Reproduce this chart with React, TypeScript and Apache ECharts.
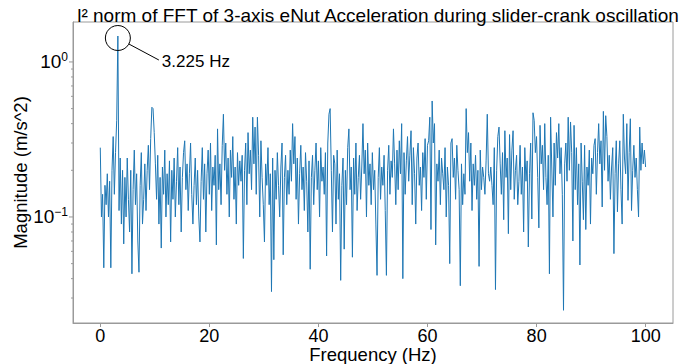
import React, { useEffect, useRef } from 'react';
import * as echarts from 'echarts';

const TITLE = 'l² norm of FFT of 3-axis eNut Acceleration during slider-crank oscillation';
const X_LABEL = 'Frequency (Hz)';
const Y_LABEL = 'Magnitude (m/s^2)';
const PEAK_LABEL = '3.225 Hz';
const PEAK_FREQ = 3.225;
const FREQ_STEP = 0.215; // FFT bin width (Hz)

const X_TICKS = [0, 20, 40, 60, 80, 100];
const Y_MAJOR_TICKS = [0.1, 1];
const Y_MINOR_TICKS = [0.03, 0.04, 0.05, 0.06, 0.07, 0.08, 0.09, 0.2, 0.3, 0.4, 0.5, 0.6, 0.7, 0.8, 0.9];
const X_MIN = -5;
const X_MAX = 105;
const Y_MIN = 0.0207;
const Y_MAX = 1.81;

// magnitudes, one FFT bin each (0 .. 100 Hz)
const magBand0to21 = [
  0.28, 0.1, 0.14, 0.047, 0.16, 0.12, 0.19, 0.1, 0.17, 0.047, 0.2, 0.33, 0.14, 0.26, 0.42, 1.47, 0.11, 0.24, 0.09, 0.2,
  0.067, 0.18, 0.1, 0.24, 0.13, 0.08, 0.2, 0.043, 0.15, 0.27, 0.12, 0.19, 0.07, 0.044, 0.16, 0.26, 0.09, 0.13, 0.22, 0.11,
  0.2, 0.29, 0.15, 0.32, 0.51, 0.5, 0.35, 0.22, 0.13, 0.25, 0.09, 0.18, 0.063, 0.21, 0.14, 0.27, 0.1, 0.19, 0.12, 0.23,
  0.069, 0.2, 0.13, 0.24, 0.1, 0.17, 0.28, 0.12, 0.21, 0.08, 0.18, 0.26, 0.31, 0.15, 0.22, 0.11, 0.19, 0.3, 0.14, 0.09,
  0.16, 0.24, 0.12, 0.2, 0.1, 0.069, 0.17, 0.28, 0.13, 0.22, 0.08, 0.19, 0.27, 0.14, 0.3, 0.11, 0.21, 0.16, 0.25, 0.066,
];
const magBand21to43 = [
  0.37, 0.15, 0.22, 0.12, 0.29, 0.46, 0.2, 0.3, 0.14, 0.24, 0.1, 0.27, 0.18, 0.33, 0.13, 0.21, 0.09, 0.26, 0.16, 0.23,
  0.17, 0.25, 0.054, 0.2, 0.3, 0.12, 0.35, 0.19, 0.27, 0.15, 0.44, 0.22, 0.38, 0.14, 0.44, 0.25, 0.1, 0.31, 0.18, 0.12,
  0.069, 0.22, 0.16, 0.28, 0.12, 0.19, 0.033, 0.24, 0.053, 0.2, 0.13, 0.26, 0.16, 0.1, 0.21, 0.3, 0.057, 0.18, 0.25, 0.12,
  0.2, 0.14, 0.27, 0.17, 0.4, 0.22, 0.33, 0.13, 0.24, 0.09, 0.19, 0.29, 0.15, 0.21, 0.11, 0.26, 0.17, 0.08, 0.23, 0.046,
  0.18, 0.25, 0.12, 0.2, 0.3, 0.15, 0.23, 0.1, 0.28, 0.17, 0.21, 0.14, 0.26, 0.056, 0.3, 0.46, 0.5, 0.2, 0.08, 0.25,
];
const magBand43to64 = [
  0.22, 0.09, 0.27, 0.13, 0.19, 0.039, 0.16, 0.24, 0.062, 0.2, 0.12, 0.28, 0.37, 0.15, 0.21, 0.055, 0.24, 0.14, 0.3, 0.11,
  0.18, 0.25, 0.13, 0.21, 0.4, 0.19, 0.27, 0.1, 0.3, 0.16, 0.22, 0.12, 0.26, 0.15, 0.2, 0.09, 0.042, 0.18, 0.28, 0.13,
  0.21, 0.16, 0.25, 0.11, 0.042, 0.2, 0.29, 0.14, 0.23, 0.18, 0.37, 0.22, 0.12, 0.27, 0.15, 0.31, 0.19, 0.4, 0.04, 0.26,
  0.14, 0.23, 0.33, 0.17, 0.25, 0.36, 0.12, 0.28, 0.19, 0.09, 0.24, 0.3, 0.16, 0.21, 0.11, 0.26, 0.18, 0.32, 0.13, 0.29,
  0.31, 0.44, 0.083, 0.56, 0.3, 0.4, 0.066, 0.22, 0.17, 0.27, 0.12, 0.24, 0.19, 0.15, 0.28, 0.1, 0.21, 0.16, 0.05, 0.3,
];
const magBand64to86 = [
  0.32, 0.18, 0.24, 0.13, 0.29, 0.2, 0.15, 0.036, 0.22, 0.12, 0.19, 0.14, 0.5, 0.26, 0.35, 0.17, 0.3, 0.11, 0.22, 0.16,
  0.25, 0.13, 0.2, 0.048, 0.27, 0.15, 0.21, 0.18, 0.14, 0.23, 0.46, 0.19, 0.17, 0.21, 0.16, 0.12, 0.28, 0.034, 0.2, 0.33,
  0.38, 0.22, 0.14, 0.26, 0.096, 0.36, 0.18, 0.24, 0.078, 0.34, 0.15, 0.27, 0.36, 0.13, 0.2, 0.25, 0.12, 0.17, 0.29, 0.14,
  0.21, 0.08, 0.28, 0.17, 0.23, 0.064, 0.19, 0.3, 0.097, 0.47, 0.42, 0.26, 0.33, 0.18, 0.085, 0.39, 0.22, 0.29, 0.15, 0.4,
  0.18, 0.12, 0.25, 0.043, 0.44, 0.21, 0.1, 0.3, 0.16, 0.35, 0.24, 0.4, 0.19, 0.28, 0.14, 0.025, 0.22, 0.3, 0.17, 0.44,
];
const magBand86to100 = [
  0.2, 0.41, 0.26, 0.07, 0.39, 0.15, 0.28, 0.12, 0.22, 0.049, 0.3, 0.17, 0.096, 0.29, 0.083, 0.21, 0.16, 0.27, 0.09, 0.24,
  0.19, 0.29, 0.32, 0.14, 0.26, 0.4, 0.22, 0.31, 0.116, 0.48, 0.2, 0.45, 0.33, 0.17, 0.25, 0.13, 0.21, 0.28, 0.058, 0.19,
  0.31, 0.108, 0.22, 0.31, 0.15, 0.09, 0.46, 0.24, 0.19, 0.4, 0.128, 0.26, 0.43, 0.11, 0.2, 0.29, 0.18, 0.24, 0.15, 0.1,
  0.38, 0.2, 0.3, 0.22, 0.27, 0.21,
];

const FONT = "'Liberation Sans', Arial, sans-serif";
const AXIS_GRAY = '#9a9a9a';
const LINE_BLUE = '#1f77b4';

export default function App() {
  const ref = useRef<HTMLDivElement>(null);

  useEffect(() => {
    if (!ref.current) return;
    const chart = echarts.init(ref.current, undefined, { renderer: 'svg' });

    const mags = [...magBand0to21, ...magBand21to43, ...magBand43to64, ...magBand64to86, ...magBand86to100];
    const points = mags.map((m, i) => [+(i * FREQ_STEP).toFixed(4), m]);
    const peakIdx = Math.round(PEAK_FREQ / FREQ_STEP);
    const peakVal = mags[peakIdx];

    const yTicks = [
      ...Y_MAJOR_TICKS.map((v) => [X_MIN, v, 1]),
      ...Y_MINOR_TICKS.map((v) => [X_MIN, v, 0]),
    ];

    const supFormatter = (v: number) => {
      const l = Math.log10(v);
      const e = Math.round(l);
      if (Math.abs(l - e) > 1e-6) return '';
      const s = e < 0 ? '\u2212' + -e : String(e);
      return `{b|10}{s|${s}}`;
    };

    chart.setOption({
      animation: false,
      backgroundColor: '#fff',
      textStyle: { fontFamily: FONT },
      title: {
        text: TITLE,
        left: 373,
        top: 1,
        textAlign: 'center',
        textStyle: { fontSize: 19, fontWeight: 'normal', color: '#000', fontFamily: FONT },
      },
      grid: {
        left: 73,
        right: 7,
        top: 22,
        bottom: 41,
        containLabel: false,
        outerBoundsMode: 'none',
        show: true,
        borderColor: AXIS_GRAY,
        borderWidth: 1,
        backgroundColor: 'transparent',
      },
      xAxis: {
        type: 'value',
        min: X_MIN,
        max: X_MAX,
        name: X_LABEL,
        nameLocation: 'middle',
        nameGap: 22,
        nameMoveOverlap: false,
        nameTextStyle: { fontSize: 18.5, color: '#000', fontFamily: FONT },
        axisLine: { show: true, onZero: false, lineStyle: { color: AXIS_GRAY, width: 1 } },
        axisTick: { show: true, customValues: X_TICKS, length: 4, lineStyle: { color: AXIS_GRAY } },
        axisLabel: { customValues: X_TICKS, fontSize: 18, color: '#000', margin: 4, fontFamily: FONT },
        splitLine: { show: false },
      },
      yAxis: {
        type: 'log',
        logBase: 10,
        min: Y_MIN,
        max: Y_MAX,
        name: Y_LABEL,
        nameLocation: 'middle',
        nameGap: 43,
        nameMoveOverlap: false,
        nameTextStyle: { fontSize: 18.5, color: '#000', fontFamily: FONT },
        axisLine: { show: true, onZero: false, lineStyle: { color: AXIS_GRAY, width: 1 } },
        axisTick: { show: false },
        splitLine: { show: false },
        minorTick: { show: false },
        axisLabel: {
          interval: 0,
          margin: 5,
          color: '#000',
          formatter: supFormatter,
          rich: {
            b: { fontSize: 19, color: '#000', fontFamily: FONT },
            s: { fontSize: 12, color: '#000', fontFamily: FONT, padding: [0, 0, 9, 0] },
          },
        },
      },
      series: [
        {
          type: 'line',
          data: points,
          showSymbol: false,
          symbol: 'none',
          lineStyle: { color: LINE_BLUE, width: 1 },
          itemStyle: { color: LINE_BLUE },
          z: 3,
        },
        {
          type: 'custom',
          data: yTicks,
          encode: { x: 0, y: 1 },
          silent: true,
          clip: false,
          renderItem: (params: any, api: any) => {
            const p = api.coord([api.value(0), api.value(1)]);
            const len = api.value(2) ? 4 : 2;
            return {
              type: 'line',
              shape: { x1: p[0] - len, y1: p[1], x2: p[0], y2: p[1] },
              style: { stroke: AXIS_GRAY, lineWidth: 1 },
            };
          },
          z: 4,
        },
      ],
    });

    const p = chart.convertToPixel({ xAxisIndex: 0, yAxisIndex: 0 }, [PEAK_FREQ, peakVal]) as number[];
    chart.setOption({
      graphic: [
        {
          type: 'circle',
          shape: { cx: p[0], cy: p[1] + 2, r: 12.5 },
          style: { fill: 'none', stroke: '#000', lineWidth: 1 },
          z: 10,
        },
        {
          type: 'line',
          shape: { x1: p[0] + 11, y1: p[1] + 8, x2: p[0] + 41, y2: p[1] + 24 },
          style: { stroke: '#000', lineWidth: 1 },
          z: 10,
        },
        {
          type: 'text',
          x: p[0] + 44,
          y: p[1] + 25,
          style: { text: PEAK_LABEL, fontSize: 17, fill: '#000', fontFamily: FONT, verticalAlign: 'middle' },
          z: 10,
        },
      ],
    });

    return () => chart.dispose();
  }, []);

  return <div ref={ref} style={{ width: 680, height: 364, position: 'absolute', left: 0, top: 0 }} />;
}
